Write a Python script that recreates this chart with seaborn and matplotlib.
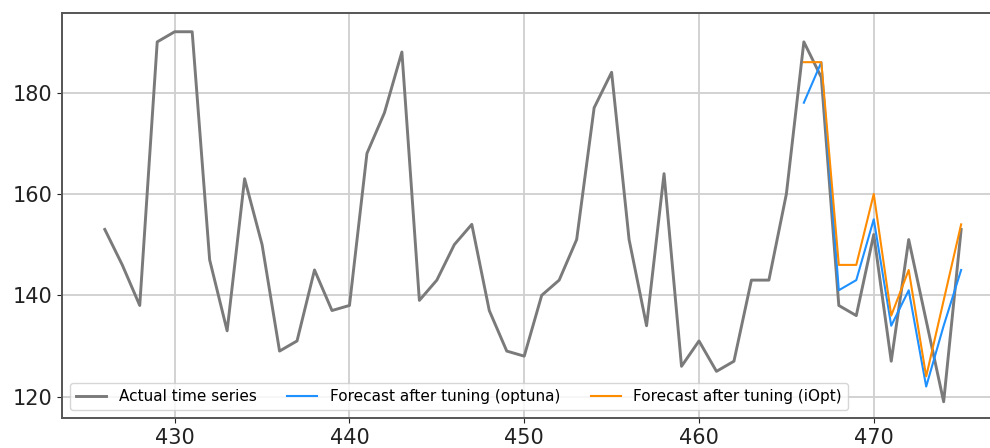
# actual series vs. forecasts after tuning

import numpy as np
import matplotlib
matplotlib.use("Agg")
import matplotlib.pyplot as plt
import seaborn as sns

# data
actual_index = np.arange(426, 476)
actual_values = [153, 146, 138, 190, 192, 192, 147, 133, 163, 150,
                 129, 131, 145, 137, 138, 168, 176, 188, 139, 143,
                 150, 154, 137, 129, 128, 140, 143, 151, 177, 184,
                 151, 134, 164, 126, 131, 125, 127, 143, 143, 160,
                 190, 183, 138, 136, 152, 127, 151, 135, 119, 153]

forecast_index = np.arange(466, 476)
optuna_values = [178, 186, 141, 143, 155, 134, 141, 122, 134, 145]
iopt_values = [186, 186, 146, 146, 160, 136, 145, 124, 139, 154]

x_ticks = [430, 440, 450, 460, 470]
y_ticks = [120, 140, 160, 180]

plt.rcParams["font.family"] = ["DejaVu Sans"]

fig = plt.figure(figsize=(9.9, 4.48), dpi=100)
# axes run past the right edge, like the cropped original
ax = fig.add_axes([0.0626, 0.067, 0.9515, 0.904])

sns.lineplot(x=actual_index, y=actual_values, ax=ax, color="#7a7a7a",
             linewidth=2.1, label="Actual time series")
sns.lineplot(x=forecast_index, y=optuna_values, ax=ax, color="#1e90ff",
             linewidth=1.5, label="Forecast after tuning (optuna)")
sns.lineplot(x=forecast_index, y=iopt_values, ax=ax, color="#ff8c00",
             linewidth=1.5, label="Forecast after tuning (iOpt)")

ax.set_xlim(423.55, 477.45)
ax.set_ylim(115.8, 195.7)
ax.set_xticks(x_ticks)
ax.set_yticks(y_ticks)
ax.tick_params(labelsize=15, colors="#222222")
ax.set_xlabel("")
ax.set_ylabel("")

ax.grid(True, color="#cfcfcf", linewidth=1.3)
ax.set_axisbelow(True)
for s in ax.spines.values():
    s.set_color("#555555")
    s.set_linewidth(1.4)
ax.spines["right"].set_visible(False)

ax.legend(loc="lower left", ncol=3, fontsize=11)

fig.savefig("out.png", dpi=100)
